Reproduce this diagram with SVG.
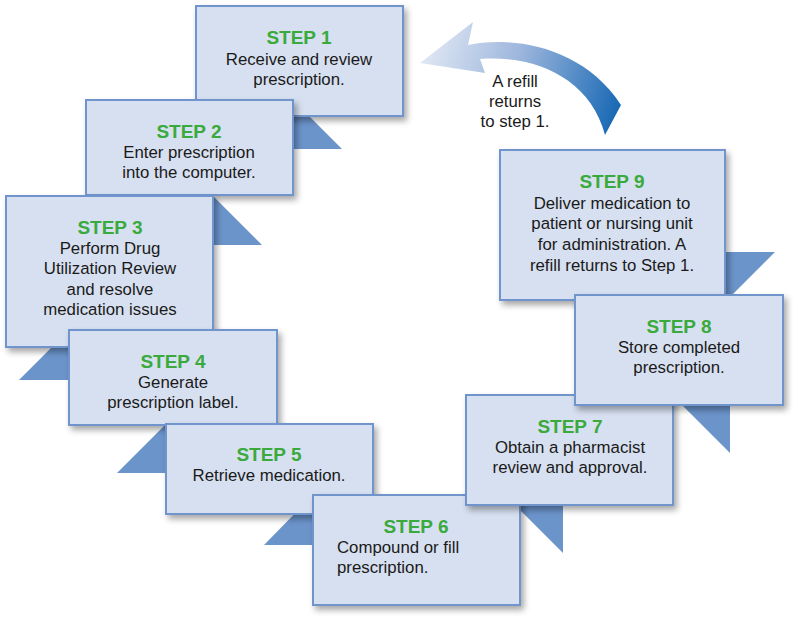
<svg xmlns="http://www.w3.org/2000/svg" width="797" height="620" viewBox="0 0 797 620">
<defs>
<filter id="sh" x="-10%" y="-10%" width="125%" height="130%">
<feDropShadow dx="3" dy="4" stdDeviation="3" flood-color="#000" flood-opacity="0.35"/>
</filter>
<linearGradient id="ag" x1="420" y1="60" x2="620" y2="120" gradientUnits="userSpaceOnUse">
<stop offset="0" stop-color="#E1E8F4"/>
<stop offset="0.45" stop-color="#9DB6DD"/>
<stop offset="1" stop-color="#1466B3"/>
</linearGradient>
<style>
.box{fill:#D7E0F0;stroke:#6F95CC;stroke-width:2;filter:url(#sh)}
.flap{fill:#6B94CB}
.st{font-family:"Liberation Sans",Arial,sans-serif;font-weight:bold;font-size:19px;fill:#3AAA3C;text-anchor:middle}
.tx{font-family:"Liberation Sans",Arial,sans-serif;font-size:16.8px;fill:#1A1A1A;text-anchor:middle}
.tl{font-family:"Liberation Sans",Arial,sans-serif;font-size:16.8px;fill:#1A1A1A}
</style>
</defs>
<rect width="797" height="620" fill="#FFFFFF"/>
<g id="connectors">
<polygon class="flap" points="293,100 342,149 293,149"/>
<polygon class="flap" points="213,196 262,245 213,245"/>
<polygon class="flap" points="69,330 19,380 69,380"/>
<polygon class="flap" points="166,424 117,473 166,473"/>
<polygon class="flap" points="313,495 264,545 313,545"/>
<polygon class="flap" points="515,505 563,505 563,553"/>
<polygon class="flap" points="682,405 730,405 730,453"/>
<polygon class="flap" points="725,252 775,252 725,302"/>
<path d="M420,63 L473,22 L468,45 C510,36 582,45 621,105 L605,135 C590,78 535,55 480,59 L485,73 Z" fill="url(#ag)"/>
</g>
<g id="refill-label">
<text class="tx" x="515" y="87">A refill</text>
<text class="tx" x="515" y="107">returns</text>
<text class="tx" x="515" y="127">to step 1.</text>
</g>
<g id="step1">
<rect class="box" x="196" y="6" width="207" height="110"/>
<text class="st" x="299" y="44">STEP 1</text>
<text class="tx" x="299" y="65">Receive and review</text>
<text class="tx" x="299" y="85">prescription.</text>
</g>
<g id="step2">
<rect class="box" x="86" y="100" width="207" height="95"/>
<text class="st" x="189" y="138">STEP 2</text>
<text class="tx" x="189" y="158">Enter prescription</text>
<text class="tx" x="189" y="178">into the computer.</text>
</g>
<g id="step3">
<rect class="box" x="6" y="196" width="207" height="151"/>
<text class="st" x="110" y="234">STEP 3</text>
<text class="tx" x="110" y="254">Perform Drug</text>
<text class="tx" x="110" y="274">Utilization Review</text>
<text class="tx" x="110" y="295">and resolve</text>
<text class="tx" x="110" y="315">medication issues</text>
</g>
<g id="step4">
<rect class="box" x="69" y="330" width="208" height="95"/>
<text class="st" x="173" y="368">STEP 4</text>
<text class="tx" x="173" y="388">Generate</text>
<text class="tx" x="173" y="408">prescription label.</text>
</g>
<g id="step5">
<rect class="box" x="166" y="424" width="207" height="90"/>
<text class="st" x="269" y="461">STEP 5</text>
<text class="tx" x="269" y="481">Retrieve medication.</text>
</g>
<g id="step6">
<rect class="box" x="313" y="495" width="207" height="110"/>
<text class="st" x="416" y="533">STEP 6</text>
<text class="tl" x="337" y="553">Compound or fill</text>
<text class="tl" x="337" y="573">prescription.</text>
</g>
<g id="step7">
<rect class="box" x="466" y="395" width="207" height="110"/>
<text class="st" x="570" y="433">STEP 7</text>
<text class="tx" x="570" y="453">Obtain a pharmacist</text>
<text class="tx" x="570" y="473">review and approval.</text>
</g>
<g id="step9">
<rect class="box" x="500" y="150" width="225" height="150"/>
<text class="st" x="612" y="188">STEP 9</text>
<text class="tx" x="612" y="209">Deliver medication to</text>
<text class="tx" x="612" y="229">patient or nursing unit</text>
<text class="tx" x="612" y="250">for administration. A</text>
<text class="tx" x="612" y="271">refill returns to Step 1.</text>
</g>
<g id="step8">
<rect class="box" x="575" y="295" width="208" height="110"/>
<text class="st" x="679" y="333">STEP 8</text>
<text class="tx" x="679" y="353">Store completed</text>
<text class="tx" x="679" y="373">prescription.</text>
</g>
</svg>
